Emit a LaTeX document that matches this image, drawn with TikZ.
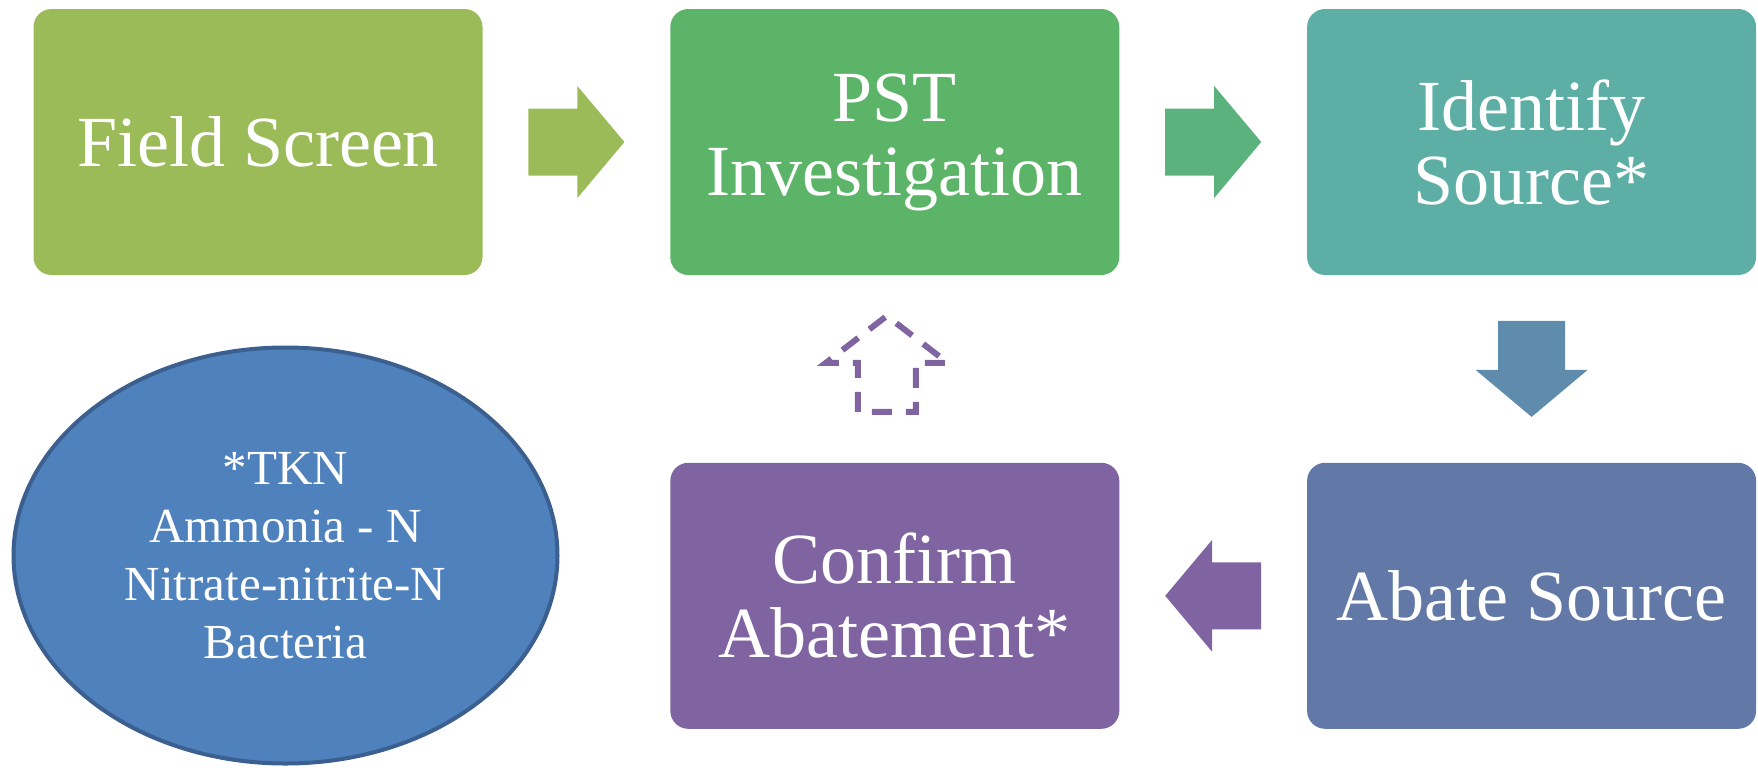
\documentclass[tikz,border=0pt]{standalone}
\usepackage{fontspec}
\setmainfont{Liberation Serif}
\usepackage{xcolor}
\definecolor{cScreen}{HTML}{9BBB59}
\definecolor{cPST}{HTML}{5CB468}
\definecolor{cPSTArrow}{HTML}{5BB27C}
\definecolor{cSource}{HTML}{5DAFA6}
\definecolor{cDown}{HTML}{5F8CAD}
\definecolor{cAbate}{HTML}{6279A7}
\definecolor{cConfirm}{HTML}{8064A2}
\definecolor{cParam}{HTML}{4F81BD}
\definecolor{cParamEdge}{HTML}{3B5F8E}
\usetikzlibrary{positioning,calc,shapes.geometric}
\tikzset{
  node-box/.style={rounded corners=9pt,minimum width=224.5pt,minimum height=133pt,
    align=center,text=white,font=\fontsize{36}{37}\selectfont},
  node-param/.style={ellipse,draw=cParamEdge,line width=2pt,fill=cParam,
    minimum width=272pt,minimum height=208pt,align=center,text=white,
    font=\fontsize{24.5}{29}\selectfont},
  % block arrow pointing right: {half head width}{half shaft width}
  pics/block-arrow/.style 2 args={code={
    \path[pic actions] (-48,-#2) -- (1,-#2) -- (1,-#1) -- (48,0)
      -- (1,#1) -- (1,#2) -- (-48,#2) -- cycle;}},
  arrow-dashed/.style={draw=cConfirm,line width=3pt,dash pattern=on 10pt off 7pt},
}
\begin{document}
\begin{tikzpicture}[x=0.5pt,y=-0.5pt,node distance=93.5pt]
  \useasboundingbox (0,0) rectangle (1758,767);
  \node[node-box,fill=cScreen] (screen) at (258,142) {Field Screen};
  \node[node-box,fill=cPST,right=of screen] (pst) {PST\\Investigation};
  \node[node-box,fill=cSource,right=of pst] (source) {Identify\\Source*};
  \node[node-box,fill=cAbate,below=of source] (abate) {Abate Source};
  \node[node-box,fill=cConfirm,below=of pst] (confirm) {Confirm\\Abatement*};
  \node[node-param] (param) at (285.5,555.5) {*TKN\\Ammonia - N\\Nitrate-nitrite-N\\Bacteria};

  \pic[fill=cScreen] at ($(screen.east)!0.5!(pst.west)$) {block-arrow={56}{33.5}};
  \pic[fill=cPSTArrow] at ($(pst.east)!0.5!(source.west)$) {block-arrow={56}{33.5}};
  \pic[fill=cDown,rotate=-90] at ($(source.south)!0.5!(abate.north)$) {block-arrow={56}{33.5}};
  \pic[fill=cConfirm,rotate=180] at ($(abate.west)!0.5!(confirm.east)$) {block-arrow={56}{33.5}};
  \pic[arrow-dashed,rotate=90] at ($($(pst.south)!0.5!(confirm.north)$)+(-8,-5)$) {block-arrow={61}{29}};
\end{tikzpicture}
\end{document}
